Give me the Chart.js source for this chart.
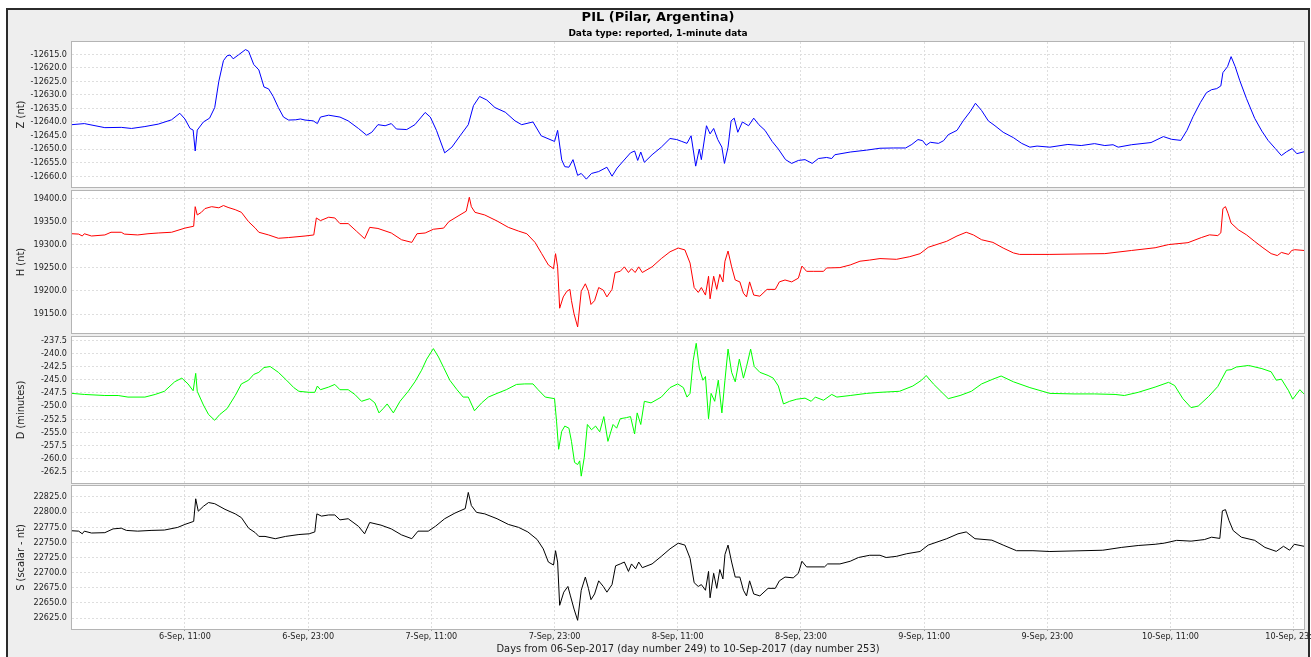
<!DOCTYPE html>
<html>
<head>
<meta charset="utf-8">
<title>PIL (Pilar, Argentina)</title>
<script src="https://cdn.jsdelivr.net/npm/chart.js"></script>
<style>
  html, body { margin: 0; padding: 0; background: #ffffff; }
  body { width: 1311px; height: 657px; position: relative; overflow: hidden; }
  #frame { position: absolute; left: 6px; top: 8px; width: 1304px; height: 664px;
           box-sizing: border-box; border: 2px solid #2b2b2b; background: #eeeeee; }
  canvas { position: absolute; left: 0; }
</style>
</head>
<body>
<div id="frame"></div>
<canvas id="chartZ" width="1311" height="189" style="top:0px"></canvas>
<canvas id="chartH" width="1311" height="146" style="top:189px"></canvas>
<canvas id="chartD" width="1311" height="150" style="top:335px"></canvas>
<canvas id="chartS" width="1311" height="172" style="top:485px"></canvas>
<script>
// Time axis: hours elapsed since 06-Sep-2017 00:00 UT
const xTickHours  = [11, 23, 35, 47, 59, 71, 83, 95, 107, 119];
const xTickLabels = ['6-Sep, 11:00', '6-Sep, 23:00', '7-Sep, 11:00', '7-Sep, 23:00', '8-Sep, 11:00',
                     '8-Sep, 23:00', '9-Sep, 11:00', '9-Sep, 23:00', '10-Sep, 11:00', '10-Sep, 23:00'];

// Z component (nT)
const zHours = [0, 1.2, 3.2, 4.8, 5.8, 7.1, 8.4, 9.7, 10.5, 11.0, 11.5, 11.8, 12.0, 12.2, 12.8, 13.4, 13.9, 14.3,
  14.75, 15.1, 15.4, 15.7, 16.2, 16.9, 17.2, 17.7, 18.2, 18.7, 19.15, 19.6, 20.1, 20.6, 21.1, 21.8, 22.25, 22.7,
  23.5, 23.9, 24.2, 25.0, 26.1, 26.9, 27.9, 28.7, 29.2, 29.8, 30.5, 31.1, 31.6, 32.6, 33.4, 34.4, 34.9, 35.5,
  36.3, 37.0, 37.8, 38.6, 39.1, 39.7, 40.4, 41.2, 42.2, 43.15, 43.8, 44.9, 45.7, 47.0, 47.3, 47.7, 48.0, 48.4,
  48.8, 49.25, 49.6, 50.1, 50.6, 51.3, 52.1, 52.6, 53.1, 53.7, 54.4, 54.8, 55.1, 55.4, 55.75, 56.5, 57.4, 58.25,
  58.9, 59.4, 59.9, 60.3, 60.5, 60.75, 61.1, 61.3, 61.8, 62.15, 62.5, 62.9, 63.3, 63.55, 63.9, 64.2, 64.5, 64.85,
  65.3, 65.9, 66.4, 66.9, 67.5, 68.2, 68.8, 69.5, 70.1, 70.75, 71.4, 72.1, 72.7, 73.5, 74.0, 74.3, 75.8, 77.4,
  78.7, 80.0, 81.2, 81.8, 82.4, 82.85, 83.2, 83.6, 84.4, 84.9, 85.35, 86.2, 86.8, 87.5, 88.0, 88.6, 89.25, 89.9,
  90.7, 91.7, 92.5, 93.3, 94.0, 95.25, 97.0, 98.3, 99.6, 100.6, 101.4, 101.9, 103.2, 105.1, 106.3, 107.1, 108.0,
  108.6, 109.2, 109.9, 110.5, 111.0, 111.5, 111.9, 112.1, 112.55, 112.9, 113.3, 113.75, 114.4, 115.2, 115.9,
  116.5, 117.2, 117.8, 118.3, 118.85, 119.3, 120.0];
const zValues = [-12641.0, -12640.6, -12642.1, -12642.0, -12642.4, -12641.7, -12640.8, -12639.2, -12636.8,
  -12638.9, -12642.4, -12643.0, -12650.7, -12643.0, -12640.0, -12638.6, -12634.7, -12625.0, -12617.4, -12615.6,
  -12615.3, -12616.7, -12615.3, -12613.3, -12613.9, -12618.8, -12620.8, -12627.1, -12627.8, -12630.6, -12634.7,
  -12638.2, -12639.3, -12639.2, -12638.9, -12639.3, -12639.6, -12640.6, -12638.2, -12637.5, -12638.2, -12639.6,
  -12642.4, -12644.9, -12643.8, -12641.0, -12641.4, -12640.6, -12642.6, -12642.8, -12641.0, -12636.5, -12638.2,
  -12643.1, -12651.4, -12649.3, -12645.1, -12641.0, -12634.0, -12630.6, -12631.9, -12634.7, -12636.4, -12639.6,
  -12641.0, -12640.0, -12645.1, -12647.2, -12643.1, -12654.0, -12656.5, -12656.7, -12653.9, -12659.7, -12659.0,
  -12661.1, -12659.0, -12658.3, -12656.7, -12660.0, -12657.0, -12654.4, -12651.4, -12650.7, -12654.2, -12651.1,
  -12654.9, -12652.1, -12649.3, -12646.1, -12646.5, -12647.2, -12647.9, -12645.1, -12650.0, -12656.3, -12650.0,
  -12653.9, -12641.4, -12644.4, -12642.4, -12646.5, -12649.3, -12655.3, -12649.3, -12639.6, -12638.6, -12643.8,
  -12640.0, -12641.4, -12638.6, -12641.0, -12643.1, -12647.2, -12650.0, -12653.9, -12655.3, -12654.2, -12653.9,
  -12655.3, -12653.5, -12653.1, -12653.5, -12652.1, -12651.1, -12650.4, -12649.7, -12649.6, -12649.6, -12648.3,
  -12646.5, -12646.9, -12648.6, -12647.5, -12647.9, -12646.9, -12644.7, -12643.1, -12639.6, -12636.1, -12633.1,
  -12635.8, -12639.6, -12641.4, -12643.8, -12645.8, -12647.9, -12649.3, -12648.9, -12649.3, -12648.3, -12648.7,
  -12648.0, -12648.7, -12648.4, -12649.3, -12648.4, -12647.6, -12645.4, -12646.4, -12646.8, -12643.1, -12638.0,
  -12632.9, -12629.2, -12628.1, -12627.7, -12626.7, -12621.8, -12619.6, -12615.9, -12619.6, -12624.8, -12631.4,
  -12638.7, -12643.4, -12646.8, -12649.8, -12652.4, -12651.0, -12649.8, -12651.7, -12651.0];

// H component (nT)
const hHours = [0, 0.65, 1.0, 1.2, 1.9, 3.2, 3.8, 4.8, 5.1, 6.4, 7.4, 8.4, 9.7, 11.0, 11.85, 12.0, 12.2, 12.6,
  12.95, 13.6, 14.3, 14.75, 15.2, 15.9, 16.5, 17.2, 17.85, 18.2, 19.15, 20.1, 21.1, 22.7, 23.55, 23.8, 24.2, 25.0,
  25.6, 26.1, 26.9, 27.7, 28.5, 29.0, 29.8, 31.1, 32.1, 33.1, 33.6, 34.4, 35.2, 36.2, 36.7, 37.6, 38.4, 38.7,
  38.9, 39.25, 40.2, 41.4, 42.5, 43.5, 44.3, 45.1, 45.75, 46.4, 46.9, 47.1, 47.3, 47.5, 47.85, 48.2, 48.5, 48.65,
  48.9, 49.25, 49.6, 50.0, 50.3, 50.55, 50.9, 51.3, 51.75, 52.1, 52.6, 52.9, 53.4, 53.8, 54.2, 54.5, 54.85, 55.2,
  55.55, 56.5, 57.4, 58.25, 59.05, 59.7, 60.2, 60.6, 61.0, 61.3, 61.7, 62.0, 62.15, 62.5, 62.8, 63.1, 63.4, 63.6,
  63.9, 64.25, 64.6, 65.05, 65.4, 65.7, 66.0, 66.4, 67.0, 67.7, 68.5, 68.9, 69.45, 70.1, 70.75, 71.1, 71.55,
  72.2, 73.2, 73.5, 74.8, 75.8, 76.75, 77.7, 78.7, 80.3, 81.6, 82.6, 83.4, 85.2, 86.2, 87.1, 87.8, 88.6, 89.7,
  90.7, 91.7, 92.3, 93.6, 95.25, 100.6, 103.2, 105.5, 106.8, 108.7, 110.0, 110.8, 111.6, 111.9, 112.1, 112.35,
  112.6, 112.9, 113.6, 114.4, 115.2, 116.0, 116.8, 117.4, 117.8, 118.5, 118.8, 119.1, 120.0];
const hValues = [19323.6, 19322.8, 19318.7, 19323.6, 19318.7, 19321.0, 19326.8, 19326.8, 19322.8, 19321.0,
  19323.6, 19325.2, 19326.8, 19335.8, 19339.8, 19382.1, 19364.2, 19369.9, 19378.0, 19382.1, 19379.7, 19384.6,
  19380.5, 19375.6, 19369.9, 19349.6, 19335.8, 19326.8, 19321.0, 19313.8, 19315.4, 19318.7, 19321.0, 19357.7,
  19352.0, 19359.3, 19357.7, 19345.5, 19345.5, 19329.3, 19313.0, 19337.4, 19335.0, 19325.2, 19310.6, 19304.9,
  19323.6, 19325.2, 19333.3, 19335.8, 19349.6, 19361.8, 19372.4, 19402.4, 19382.1, 19369.9, 19364.2, 19351.2,
  19337.4, 19329.3, 19323.6, 19304.9, 19280.5, 19256.1, 19248.0, 19280.5, 19252.0, 19162.6, 19187.0, 19199.2,
  19203.3, 19178.9, 19150.4, 19122.0, 19199.2, 19215.4, 19199.2, 19170.7, 19178.9, 19207.3, 19201.6, 19187.0,
  19203.3, 19239.8, 19242.3, 19252.0, 19239.8, 19248.0, 19239.8, 19252.0, 19239.8, 19252.0, 19269.9, 19284.6,
  19292.7, 19288.6, 19260.2, 19207.3, 19196.7, 19207.3, 19191.0, 19231.7, 19182.9, 19231.7, 19203.3, 19235.8,
  19219.5, 19264.2, 19286.2, 19252.0, 19223.6, 19219.5, 19195.0, 19187.0, 19219.5, 19191.0, 19188.6, 19203.3,
  19203.3, 19219.5, 19223.6, 19219.5, 19227.6, 19253.7, 19242.3, 19242.3, 19242.3, 19249.6, 19250.4, 19256.1,
  19264.2, 19266.7, 19269.9, 19268.3, 19274.0, 19280.5, 19294.3, 19307.3, 19318.7, 19326.8, 19321.0, 19310.6,
  19304.9, 19292.7, 19282.1, 19278.9, 19278.9, 19278.9, 19280.6, 19287.4, 19293.3, 19300.1, 19304.3, 19315.3,
  19321.2, 19319.6, 19325.5, 19377.9, 19382.2, 19367.8, 19346.6, 19332.2, 19321.2, 19306.9, 19293.3, 19280.6,
  19276.4, 19283.2, 19278.9, 19287.4, 19289.1, 19287.4];

// D component (minutes of arc)
const dHours = [0, 1.2, 3.2, 4.5, 5.45, 7.1, 8.1, 9.0, 10.0, 10.7, 11.3, 11.8, 12.05, 12.2, 12.8, 13.3, 13.9,
  14.4, 15.1, 15.9, 16.5, 17.2, 17.7, 18.2, 18.7, 19.3, 20.1, 20.9, 21.6, 22.1, 23.1, 23.65, 23.9, 24.2, 25.0,
  25.6, 26.1, 26.9, 27.55, 28.2, 29.0, 29.5, 29.9, 30.3, 30.7, 31.3, 31.95, 32.75, 33.4, 34.05, 34.55, 35.2, 35.7,
  36.2, 36.8, 37.5, 38.1, 38.6, 39.2, 39.9, 40.55, 41.4, 42.3, 43.3, 44.1, 44.9, 45.4, 46.1, 47.0, 47.2, 47.4,
  47.7, 48.0, 48.4, 48.65, 48.95, 49.25, 49.45, 49.6, 49.9, 50.2, 50.6, 51.0, 51.4, 51.8, 52.2, 52.7, 53.05,
  53.4, 54.0, 54.4, 54.8, 55.05, 55.4, 55.75, 56.4, 57.4, 58.25, 59.0, 59.55, 59.9, 60.2, 60.5, 60.8, 61.1,
  61.45, 61.7, 62.0, 62.25, 62.6, 62.95, 63.3, 63.6, 63.9, 64.25, 64.6, 65.0, 65.4, 65.7, 66.1, 66.45, 67.0,
  67.8, 68.3, 68.8, 69.3, 69.9, 70.6, 71.4, 72.0, 72.4, 73.2, 74.0, 74.5, 75.8, 77.4, 78.7, 80.6, 81.9, 82.75,
  83.2, 83.9, 85.35, 86.5, 87.6, 88.6, 89.7, 90.5, 91.7, 93.3, 95.25, 97.6, 99.6, 101.6, 102.5, 103.85, 105.5,
  106.8, 107.4, 108.2, 109.0, 109.7, 110.7, 111.6, 112.45, 112.9, 113.4, 114.6, 115.9, 116.8, 117.3, 117.8,
  118.5, 118.9, 119.6, 120.0];
const dValues = [-247.6, -247.8, -248.0, -248.0, -248.3, -248.3, -247.8, -247.2, -245.4, -244.7, -245.8, -247.1,
  -243.8, -247.2, -249.8, -251.6, -252.7, -251.6, -250.5, -248.0, -245.8, -245.1, -244.0, -243.6, -242.7, -242.5,
  -243.6, -245.1, -246.5, -247.2, -247.4, -247.4, -246.2, -246.9, -246.4, -245.9, -246.9, -246.9, -247.8, -249.1,
  -248.6, -249.4, -251.3, -250.5, -249.6, -251.3, -249.1, -247.2, -245.4, -243.2, -241.1, -239.1, -240.7, -242.7,
  -245.1, -246.9, -248.3, -248.3, -250.9, -249.4, -248.3, -247.6, -246.9, -245.9, -245.8, -245.8, -246.9, -248.3,
  -248.6, -253.0, -258.2, -254.8, -253.8, -254.2, -256.7, -260.7, -261.1, -260.4, -263.3, -259.7, -253.5, -254.5,
  -253.8, -254.9, -252.0, -256.7, -253.5, -254.2, -252.4, -252.2, -252.0, -255.3, -251.3, -253.5, -249.1, -249.4,
  -248.3, -246.5, -245.8, -246.5, -248.3, -247.6, -241.4, -238.1, -242.8, -245.1, -244.4, -252.4, -247.6, -249.1,
  -245.1, -251.3, -245.1, -239.2, -243.6, -245.4, -241.1, -244.7, -242.5, -239.2, -242.5, -243.6, -244.2, -244.7,
  -246.2, -249.6, -249.1, -248.7, -248.5, -249.1, -248.3, -248.9, -247.8, -248.3, -248.0, -247.6, -247.4, -247.2,
  -246.2, -245.1, -244.2, -245.8, -248.6, -248.0, -247.2, -245.8, -244.9, -244.3, -245.4, -246.5, -247.6, -247.7,
  -247.7, -247.8, -248.0, -247.4, -246.4, -245.5, -246.1, -248.6, -250.3, -250.0, -248.2, -246.3, -243.2, -243.1,
  -242.6, -242.3, -242.9, -243.5, -245.1, -244.9, -247.1, -248.7, -246.9, -247.7];

// S: scalar total field (nT)
const sHours = [0, 0.65, 1.0, 1.2, 1.9, 3.2, 4.0, 4.8, 5.3, 6.4, 7.7, 9.0, 10.3, 11.0, 11.85, 12.05, 12.3, 12.8,
  13.3, 13.9, 14.9, 15.9, 16.5, 17.2, 17.85, 18.2, 18.8, 19.8, 20.8, 22.1, 23.1, 23.65, 23.85, 24.3, 25.0, 25.6,
  26.1, 26.9, 27.9, 28.5, 29.0, 30.1, 31.1, 32.1, 33.1, 33.7, 34.7, 35.4, 36.3, 37.3, 38.3, 38.6, 38.9, 39.4,
  40.2, 41.4, 42.5, 43.5, 44.4, 45.3, 45.9, 46.4, 46.9, 47.1, 47.3, 47.5, 47.9, 48.3, 48.55, 48.9, 49.25, 49.6,
  50.0, 50.3, 50.55, 50.9, 51.3, 51.75, 52.1, 52.6, 52.95, 53.4, 53.8, 54.2, 54.5, 54.9, 55.2, 55.55, 56.5,
  57.4, 58.25, 59.05, 59.7, 60.2, 60.6, 61.0, 61.3, 61.7, 62.0, 62.15, 62.5, 62.8, 63.1, 63.4, 63.6, 63.9,
  64.25, 64.6, 65.05, 65.4, 65.7, 66.0, 66.4, 67.0, 67.8, 68.5, 68.9, 69.45, 70.25, 70.75, 71.1, 71.55, 73.3,
  73.6, 74.8, 75.8, 76.6, 77.7, 78.7, 79.3, 80.3, 81.3, 82.6, 83.4, 85.2, 86.3, 87.1, 87.95, 89.6, 90.7, 92.0,
  93.6, 95.25, 100.4, 102.2, 103.85, 105.5, 106.4, 107.6, 109.0, 110.3, 111.0, 111.8, 112.05, 112.35, 112.7,
  113.1, 113.9, 115.2, 116.2, 117.3, 118.0, 118.6, 119.05, 120.0];
const sValues = [22769.1, 22768.5, 22764.1, 22768.5, 22765.4, 22766.0, 22772.2, 22773.4, 22769.7, 22768.5,
  22769.7, 22770.3, 22774.7, 22779.6, 22784.6, 22821.9, 22801.4, 22809.5, 22815.7, 22813.8, 22804.5, 22797.0,
  22790.8, 22773.4, 22766.0, 22759.8, 22759.8, 22756.0, 22759.8, 22762.9, 22764.1, 22767.2, 22797.0, 22793.3,
  22795.2, 22795.2, 22787.1, 22789.0, 22776.5, 22764.1, 22782.8, 22778.4, 22772.2, 22762.3, 22756.0, 22768.5,
  22768.5, 22776.5, 22789.0, 22798.3, 22805.7, 22832.4, 22810.7, 22799.5, 22797.0, 22789.0, 22779.6, 22774.7,
  22767.2, 22754.8, 22739.3, 22717.5, 22712.6, 22736.2, 22717.5, 22646.1, 22667.8, 22677.2, 22661.6, 22639.9,
  22621.3, 22670.9, 22692.7, 22674.1, 22655.4, 22664.8, 22686.5, 22677.2, 22667.8, 22680.3, 22711.3, 22714.4,
  22717.5, 22702.0, 22714.4, 22706.3, 22717.5, 22708.2, 22714.4, 22726.9, 22739.3, 22748.6, 22745.5, 22723.8,
  22683.4, 22677.2, 22680.3, 22670.9, 22702.0, 22658.5, 22698.9, 22674.1, 22705.1, 22689.6, 22730.0, 22745.5,
  22717.5, 22692.7, 22692.7, 22670.9, 22661.6, 22686.5, 22664.8, 22661.6, 22674.1, 22674.1, 22686.5, 22692.7,
  22691.4, 22698.9, 22718.8, 22709.5, 22709.5, 22714.4, 22714.4, 22718.8, 22725.0, 22728.7, 22728.7, 22725.0,
  22726.9, 22731.2, 22734.9, 22745.5, 22756.0, 22764.1, 22767.2, 22756.0, 22753.6, 22745.5, 22736.2, 22736.2,
  22734.9, 22737.0, 22741.6, 22744.8, 22746.8, 22748.7, 22753.3, 22752.0, 22754.6, 22758.5, 22756.5, 22802.0,
  22804.0, 22785.8, 22769.5, 22758.5, 22753.3, 22741.6, 22735.1, 22743.5, 22737.0, 22746.8, 22743.5];

// Value-axis tick marks for each panel
const zTicks = [-12660, -12655, -12650, -12645, -12640, -12635, -12630, -12625, -12620, -12615];
const hTicks = [19150, 19200, 19250, 19300, 19350, 19400];
const dTicks = [-262.5, -260, -257.5, -255, -252.5, -250, -247.5, -245, -242.5, -240, -237.5];
const sTicks = [22625, 22650, 22675, 22700, 22725, 22750, 22775, 22800, 22825];

const FONT = "'DejaVu Sans Condensed', 'DejaVu Sans', sans-serif";
const GRID = '#dedede';
const TEXT = '#222222';

function toPoints(hours, values) {
  return hours.map((h, i) => ({ x: h, y: values[i] }));
}

// White plot background and grey outline around each panel
const panelBackground = {
  id: 'panelBackground',
  beforeDraw(chart) {
    const { ctx, chartArea: a } = chart;
    ctx.save();
    ctx.fillStyle = '#ffffff';
    ctx.fillRect(a.left, a.top, a.right - a.left, a.bottom - a.top);
    ctx.restore();
  }
};
const panelOutline = {
  id: 'panelOutline',
  afterDraw(chart) {
    const { ctx, chartArea: a } = chart;
    ctx.save();
    ctx.strokeStyle = '#b4b4b4';
    ctx.lineWidth = 1;
    ctx.strokeRect(Math.round(a.left) - 0.5, Math.round(a.top) - 0.5,
                   Math.round(a.right - a.left) + 1, Math.round(a.bottom - a.top) + 1);
    ctx.restore();
  }
};

function buildPanel(canvasId, cfg) {
  const isBottom = !!cfg.bottom;
  const plugins = {
    legend: { display: false },
    tooltip: { enabled: false },
    title: { display: false },
    subtitle: { display: false }
  };
  if (cfg.withTitle) {
    plugins.title = {
      display: true,
      text: 'PIL (Pilar, Argentina)',
      color: '#000000',
      font: { family: "'DejaVu Sans', sans-serif", size: 13, weight: 'bold', lineHeight: '17px' },
      padding: { top: 9, bottom: 0 }
    };
    plugins.subtitle = {
      display: true,
      text: 'Data type: reported, 1-minute data',
      color: '#000000',
      font: { family: "'DejaVu Sans', sans-serif", size: 9, weight: 'bold', lineHeight: '13px' },
      padding: { top: 1, bottom: 2 }
    };
  }

  return new Chart(document.getElementById(canvasId), {
    type: 'line',
    data: {
      datasets: [{
        data: toPoints(cfg.hours, cfg.values),
        borderColor: cfg.color,
        borderWidth: 1,
        pointRadius: 0,
        fill: false,
        tension: 0
      }]
    },
    options: {
      responsive: false,
      animation: false,
      devicePixelRatio: 1,
      events: [],
      parsing: false,
      normalized: true,
      layout: { padding: { left: 12, right: 7, top: cfg.padTop, bottom: cfg.padBottom } },
      plugins: plugins,
      scales: {
        x: {
          type: 'linear',
          min: 0,
          max: 120,
          afterBuildTicks: s => { s.ticks = xTickHours.map(v => ({ value: v })); },
          afterFit: s => { s.paddingLeft = 0; s.paddingRight = 0; s.height = isBottom ? 28 : 0; },
          grid: { color: GRID, drawTicks: isBottom, tickLength: 2, tickColor: '#9a9a9a', tickBorderDash: [] },
          border: { display: false, dash: [2, 2] },
          ticks: {
            display: isBottom, autoSkip: false, maxRotation: 0, minRotation: 0, padding: 0,
            color: TEXT, font: { family: FONT, size: 9 },
            callback: (v, i) => xTickLabels[i]
          },
          title: {
            display: isBottom,
            text: 'Days from 06-Sep-2017 (day number 249) to 10-Sep-2017 (day number 253)',
            color: TEXT,
            font: { family: FONT, size: 11 },
            padding: { top: 0, bottom: 1 }
          }
        },
        y: {
          type: 'linear',
          min: cfg.min,
          max: cfg.max,
          afterBuildTicks: s => { s.ticks = cfg.ticks.map(v => ({ value: v })); },
          afterFit: s => { s.width = 60; s.paddingTop = 0; s.paddingBottom = 0; },
          grid: { color: GRID, drawTicks: false },
          border: { display: false, dash: [2, 2] },
          ticks: {
            autoSkip: false, padding: 5, color: TEXT, font: { family: FONT, size: 9 },
            callback: v => Number(v).toFixed(1)
          },
          title: {
            display: true, text: cfg.axisTitle, color: TEXT,
            font: { family: FONT, size: 11 },
            padding: { top: 3, bottom: 0 }
          }
        }
      }
    },
    plugins: [panelBackground, panelOutline]
  });
}

buildPanel('chartZ', { hours: zHours, values: zValues, color: '#0000ff', ticks: zTicks,
  min: -12664, max: -12610.5, axisTitle: 'Z (nt)', withTitle: true, padTop: 0, padBottom: 2 });
buildPanel('chartH', { hours: hHours, values: hValues, color: '#ff0000', ticks: hTicks,
  min: 19109, max: 19416, axisTitle: 'H (nt)', padTop: 2, padBottom: 2 });
buildPanel('chartD', { hours: dHours, values: dValues, color: '#00ff00', ticks: dTicks,
  min: -264.6, max: -236.9, axisTitle: 'D (minutes)', padTop: 2, padBottom: 2 });
buildPanel('chartS', { hours: sHours, values: sValues, color: '#000000', ticks: sTicks,
  min: 22607, max: 22843, axisTitle: 'S (scalar - nt)', bottom: true, padTop: 1, padBottom: 0 });
</script>
</body>
</html>
